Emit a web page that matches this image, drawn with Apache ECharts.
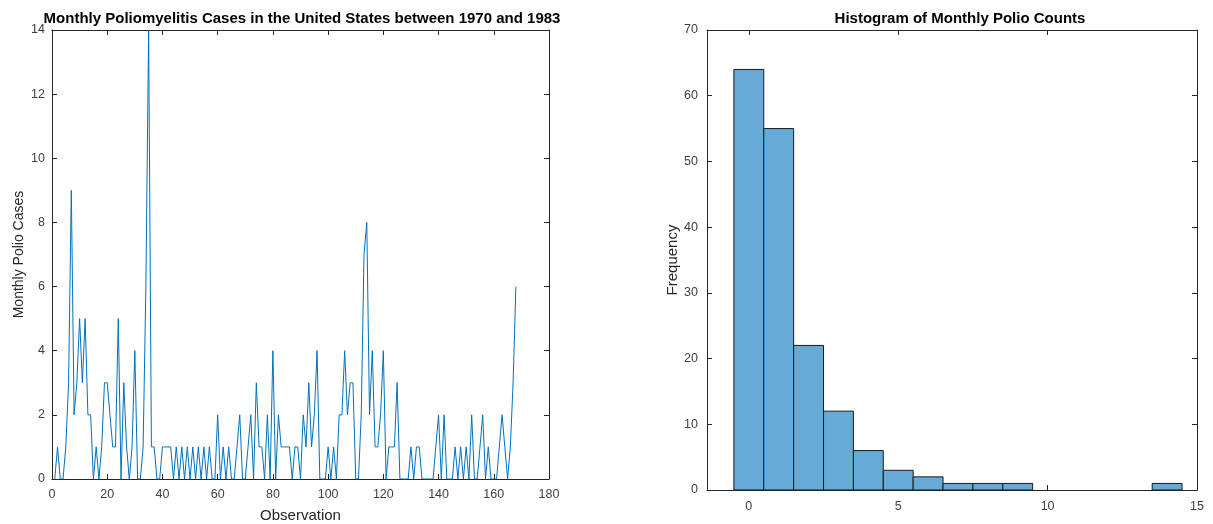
<!DOCTYPE html>
<html>
<head>
<meta charset="utf-8">
<title>Monthly Poliomyelitis Cases</title>
<script src="https://cdn.jsdelivr.net/npm/echarts@6/dist/echarts.min.js"></script>
<style>
  html, body { margin: 0; padding: 0; background: #ffffff; }
  #chart { width: 1213px; height: 524px; }
</style>
</head>
<body>
<div id="chart"></div>
<script>
// Monthly polio cases in the US, Jan 1970 – Dec 1983 (168 months)
const polioCases = [
  0, 1, 0, 0, 1, 3, 9, 2, 3, 5, 3, 5,
  2, 2, 0, 1, 0, 1, 3, 3, 2, 1, 1, 5,
  0, 3, 1, 0, 1, 4, 0, 0, 1, 6, 14, 1,
  1, 0, 0, 1, 1, 1, 1, 0, 1, 0, 1, 0,
  1, 0, 1, 0, 1, 0, 1, 0, 1, 0, 0, 2,
  0, 1, 0, 1, 0, 0, 1, 2, 0, 0, 1, 2,
  0, 3, 1, 1, 0, 2, 0, 4, 0, 2, 1, 1,
  1, 1, 0, 1, 1, 0, 2, 1, 3, 1, 2, 4,
  0, 0, 0, 1, 0, 1, 0, 2, 2, 4, 2, 3,
  3, 0, 0, 2, 7, 8, 2, 4, 1, 1, 2, 4,
  0, 1, 1, 1, 3, 0, 0, 0, 0, 1, 0, 1,
  1, 0, 0, 0, 0, 0, 1, 2, 0, 2, 0, 0,
  0, 1, 0, 1, 0, 1, 0, 2, 0, 0, 1, 2,
  0, 1, 0, 0, 0, 1, 2, 1, 0, 1, 3, 6
];

// Histogram: unit-width bins centred on each count value
const binCenters = [0, 1, 2, 3, 4, 5, 6, 7, 8, 9, 10, 11, 12, 13, 14];
const binCounts  = [64, 55, 22, 12, 6, 3, 2, 1, 1, 1, 0, 0, 0, 0, 1];

// Tick labels
const lineXTicks = [0, 20, 40, 60, 80, 100, 120, 140, 160, 180];
const lineYTicks = [0, 2, 4, 6, 8, 10, 12, 14];
const histXTicks = [0, 5, 10, 15];
const histYTicks = [0, 10, 20, 30, 40, 50, 60, 70];

const FONT = '"Liberation Sans", Arial, Helvetica, sans-serif';
const AXIS = '#262626';
const TICKTEXT = '#404040';

const lineData = polioCases.map((v, i) => [i + 1, v]);
const histData = binCenters.map((c, i) => [c - 0.5, c + 0.5, binCounts[i]]);

// Plain axis used to close the box on the top/right sides (inner ticks, no labels)
function boxAxis(gridIndex, position, min, max, ticks) {
  return {
    type: 'value', gridIndex, position, min, max,
    axisLine: { show: true, onZero: false, lineStyle: { color: AXIS, width: 1 } },
    axisTick: { show: true, inside: true, length: 5, customValues: ticks, lineStyle: { color: AXIS } },
    axisLabel: { show: false },
    splitLine: { show: false }
  };
}

function mainAxis(gridIndex, position, min, max, ticks, name, nameGap, nameSize, labelMargin) {
  return {
    type: 'value', gridIndex, position, min, max,
    name, nameLocation: 'middle', nameGap,
    nameTextStyle: { color: AXIS, fontFamily: FONT, fontSize: nameSize },
    axisLine: { show: true, onZero: false, lineStyle: { color: AXIS, width: 1 } },
    axisTick: { show: true, inside: true, length: 5, customValues: ticks, lineStyle: { color: AXIS } },
    axisLabel: { show: true, customValues: ticks, color: TICKTEXT, fontFamily: FONT, fontSize: 12.5, margin: labelMargin },
    splitLine: { show: false }
  };
}

const chart = echarts.init(document.getElementById('chart'), null, { renderer: 'canvas' });

chart.setOption({
  backgroundColor: '#ffffff',
  animation: false,
  title: [
    {
      text: 'Monthly Poliomyelitis Cases in the United States between 1970 and 1983',
      left: 297, top: 6, textAlign: 'center',
      textStyle: { fontFamily: FONT, fontSize: 15, fontWeight: 'bold', color: '#000000' }
    },
    {
      text: 'Histogram of Monthly Polio Counts',
      left: 955, top: 6, textAlign: 'center',
      textStyle: { fontFamily: FONT, fontSize: 15, fontWeight: 'bold', color: '#000000' }
    }
  ],
  grid: [
    { left: 52, top: 30, width: 497, height: 449, outerBoundsMode: 'none', containLabel: false },
    { left: 707, top: 30, width: 490, height: 460, outerBoundsMode: 'none', containLabel: false }
  ],
  xAxis: [
    mainAxis(0, 'bottom', 0, 180, lineXTicks, 'Observation', 29, 15, 9),
    boxAxis(0, 'top', 0, 180, lineXTicks),
    mainAxis(1, 'bottom', -1.4, 15, histXTicks, '', 24, 15, 10),
    boxAxis(1, 'top', -1.4, 15, histXTicks)
  ],
  yAxis: [
    mainAxis(0, 'left', 0, 14, lineYTicks, 'Monthly Polio Cases', 26, 14, 7),
    boxAxis(0, 'right', 0, 14, lineYTicks),
    mainAxis(1, 'left', 0, 70, histYTicks, 'Frequency', 26, 15, 9),
    boxAxis(1, 'right', 0, 70, histYTicks)
  ],
  series: [
    {
      type: 'line',
      xAxisIndex: 0, yAxisIndex: 0,
      data: lineData,
      showSymbol: false,
      lineStyle: { color: '#0072BD', width: 1 },
      clip: true
    },
    {
      type: 'custom',
      xAxisIndex: 2, yAxisIndex: 2,
      data: histData,
      renderItem: function (params, api) {
        if (api.value(2) <= 0) return null;
        const p0 = api.coord([api.value(0), api.value(2)]);
        const p1 = api.coord([api.value(1), 0]);
        return {
          type: 'rect',
          shape: { x: p0[0], y: p0[1], width: p1[0] - p0[0], height: p1[1] - p0[1] },
          style: { fill: '#66AAD7', stroke: '#1a1a1a', lineWidth: 1 }
        };
      }
    }
  ]
});
</script>
</body>
</html>
